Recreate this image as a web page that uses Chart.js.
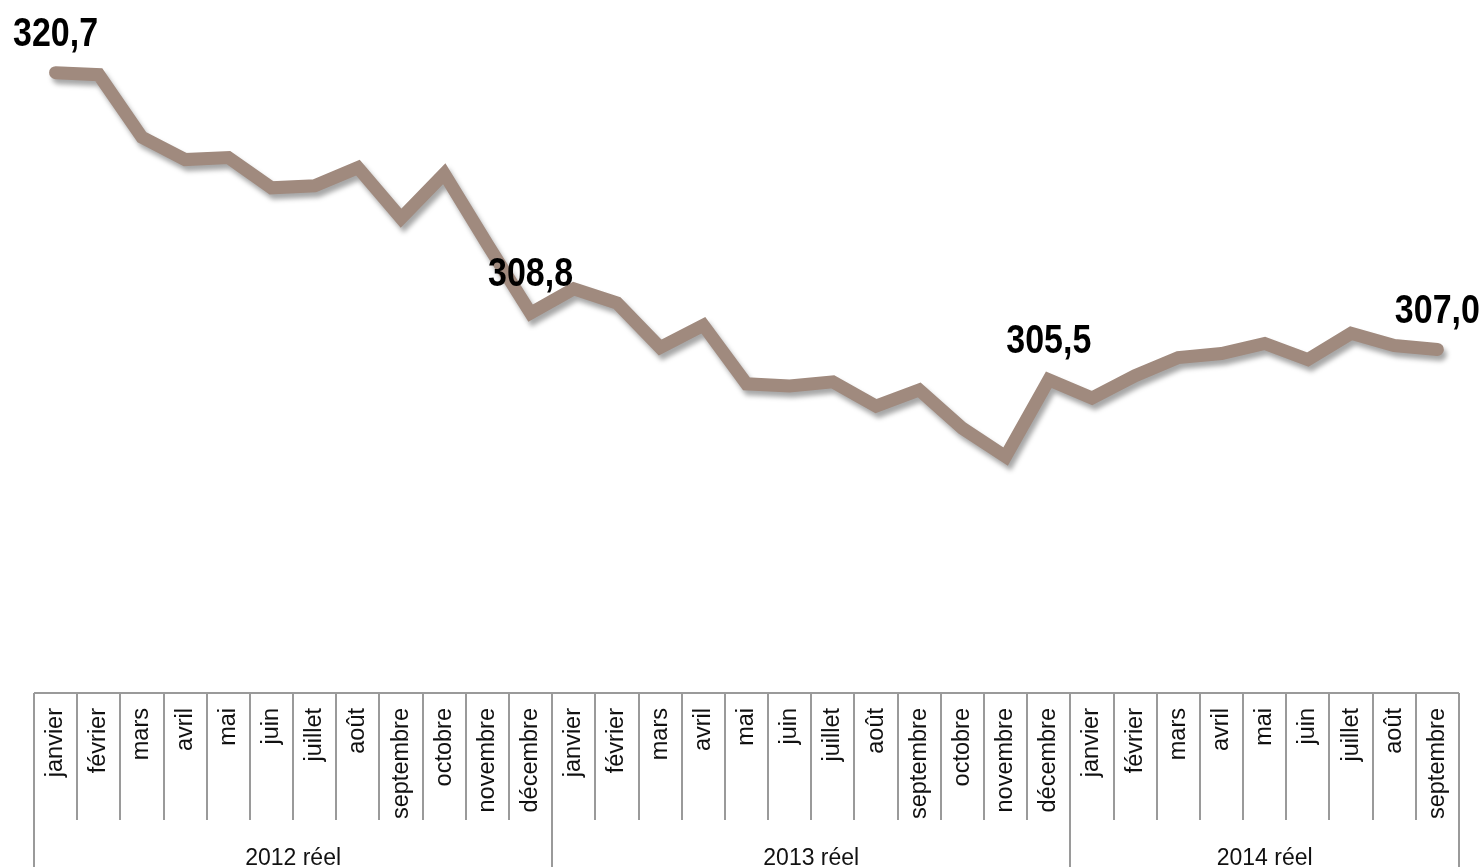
<!DOCTYPE html>
<html>
<head>
<meta charset="utf-8">
<script src="https://cdn.jsdelivr.net/npm/chart.js@4.4.1/dist/chart.umd.min.js"></script>
<style>
  html, body { margin: 0; padding: 0; background: #fff; }
  #wrap { width: 1482px; height: 867px; }
</style>
</head>
<body>
<div id="wrap"><canvas id="chart"></canvas></div>
<script>
const monthNames = ['janvier', 'février', 'mars', 'avril', 'mai', 'juin', 'juillet', 'août', 'septembre', 'octobre', 'novembre', 'décembre'];
const years = ['2012 réel', '2013 réel', '2014 réel'];
const monthsPerYear = [12, 12, 9];

const values2012 = [320.7, 320.6, 317.5, 316.4, 316.5, 315.0, 315.1, 316.0, 313.5, 315.7, 312.2, 308.8];
const values2013 = [310.0, 309.3, 307.1, 308.2, 305.3, 305.2, 305.4, 304.2, 305.0, 303.1, 301.7, 305.5];
const values2014 = [304.6, 305.7, 306.6, 306.8, 307.3, 306.5, 307.8, 307.2, 307.0];

// points that carry a value label
const labelledPoints = [0, 11, 23, 32];

const categories = monthsPerYear.flatMap(n => monthNames.slice(0, n));
const values = [...values2012, ...values2013, ...values2014];

const LINE_COLOR = '#a08a7e';
const GRID_COLOR = '#9a9a9a';

// soft shadow under the line
const lineShadow = {
  id: 'lineShadow',
  beforeDatasetsDraw(chart) {
    const ctx = chart.ctx;
    ctx.save();
    ctx.shadowColor = 'rgba(0, 0, 0, 0.35)';
    ctx.shadowBlur = 5;
    ctx.shadowOffsetX = 3;
    ctx.shadowOffsetY = 5;
  },
  afterDatasetsDraw(chart) {
    chart.ctx.restore();
  }
};

// value labels over selected points (condensed bold)
const valueLabels = {
  id: 'valueLabels',
  afterDatasetsDraw(chart) {
    const ctx = chart.ctx;
    const meta = chart.getDatasetMeta(0);
    const squeeze = 0.85;
    ctx.save();
    ctx.font = "bold 40px 'Liberation Sans', Arial, sans-serif";
    ctx.fillStyle = '#000';
    ctx.textAlign = 'center';
    ctx.textBaseline = 'alphabetic';
    labelledPoints.forEach(i => {
      const pt = meta.data[i];
      const text = values[i].toFixed(1).replace('.', ',');
      const w = ctx.measureText(text).width * squeeze;
      let x = pt.x;
      if (x + w / 2 > chart.width - 2) x = chart.width - 2 - w / 2;
      if (x - w / 2 < 2) x = 2 + w / 2;
      ctx.save();
      ctx.translate(x, pt.y - 27);
      ctx.scale(squeeze, 1);
      ctx.fillText(text, 0, 0);
      ctx.restore();
    });
    ctx.restore();
  }
};

// table under the plot: month cells and year row
const axisTable = {
  id: 'axisTable',
  afterDraw(chart) {
    const ctx = chart.ctx;
    const x = chart.scales.x;
    const top = x.top;
    const monthBottom = top + 127;
    const bottom = chart.height;
    const half = (x.getPixelForValue(1) - x.getPixelForValue(0)) / 2;
    const edge = k => (k < categories.length ? x.getPixelForValue(k) - half : x.getPixelForValue(categories.length - 1) + half);

    const yearEdges = [0];
    monthsPerYear.forEach(n => yearEdges.push(yearEdges[yearEdges.length - 1] + n));

    ctx.save();
    ctx.strokeStyle = GRID_COLOR;
    ctx.lineWidth = 2;
    ctx.beginPath();
    ctx.moveTo(edge(0), top);
    ctx.lineTo(edge(categories.length), top);
    for (let k = 0; k <= categories.length; k++) {
      const px = Math.round(edge(k));
      ctx.moveTo(px, top);
      ctx.lineTo(px, yearEdges.includes(k) ? bottom : monthBottom);
    }
    ctx.stroke();

    ctx.fillStyle = '#111';
    ctx.font = "23px 'Liberation Sans', Arial, sans-serif";
    ctx.textAlign = 'center';
    ctx.textBaseline = 'alphabetic';
    years.forEach((label, j) => {
      const cx = (edge(yearEdges[j]) + edge(yearEdges[j + 1])) / 2;
      ctx.fillText(label, cx, bottom - 2);
    });
    ctx.restore();
  }
};

new Chart(document.getElementById('chart'), {
  type: 'line',
  data: {
    labels: categories,
    datasets: [{
      data: values,
      borderColor: LINE_COLOR,
      borderWidth: 13,
      borderCapStyle: 'round',
      borderJoinStyle: 'miter',
      pointRadius: 0,
      tension: 0,
      fill: false
    }]
  },
  options: {
    responsive: true,
    maintainAspectRatio: false,
    animation: false,
    layout: {
      padding: { top: 6, left: 34, right: 23, bottom: 0 }
    },
    scales: {
      x: {
        type: 'category',
        offset: true,
        grid: { display: false, drawTicks: false },
        border: { display: false },
        ticks: {
          autoSkip: false,
          minRotation: 90,
          maxRotation: 90,
          padding: 15,
          color: '#111',
          font: { family: "'Liberation Sans', Arial, sans-serif", size: 23.5 }
        },
        afterFit(scale) {
          scale.height = 174;
        }
      },
      y: {
        display: false,
        min: 290,
        max: 324
      }
    },
    plugins: {
      legend: { display: false },
      tooltip: { enabled: false }
    }
  },
  plugins: [lineShadow, valueLabels, axisTable]
});
</script>
</body>
</html>
